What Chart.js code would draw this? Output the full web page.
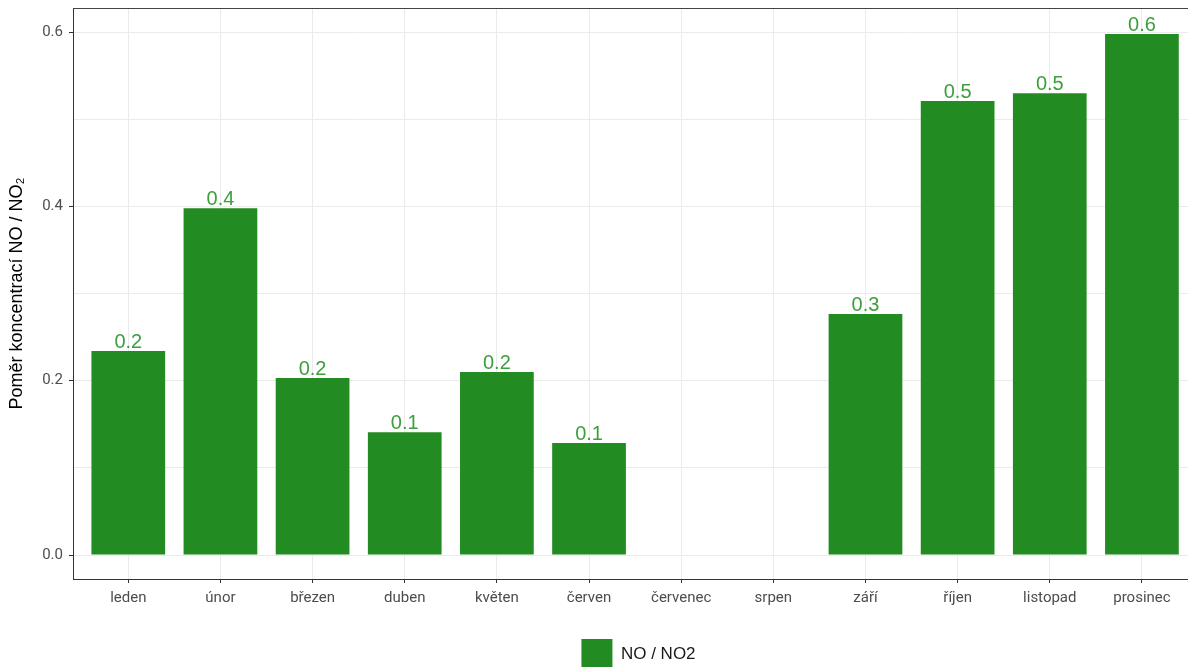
<!DOCTYPE html>
<html>
<head>
<meta charset="utf-8">
<script src="https://cdn.jsdelivr.net/npm/chart.js"></script>
<style>
  html, body { margin: 0; padding: 0; background: #fff; overflow: hidden; }
  #wrap { width: 1188px; height: 690px; position: relative; }
</style>
</head>
<body>
<div id="wrap"><canvas id="myChart"></canvas></div>
<script>
// months (categories)
var months = ["leden", "únor", "březen", "duben", "květen", "červen",
              "červenec", "srpen", "září", "říjen", "listopad", "prosinec"];
// ratio NO / NO2 per month (null = no data)
var ratio = [0.234, 0.398, 0.203, 0.141, 0.210, 0.1285,
             null, null, 0.2765, 0.521, 0.530, 0.598];
var yTicks = [0, 0.1, 0.2, 0.3, 0.4, 0.5, 0.6];
var yLabelTicks = [0, 0.2, 0.4, 0.6];

var isMajor = function (v) {
    return yLabelTicks.some(function (t) { return Math.abs(t - v) < 1e-9; });
};

// value labels above bars
var barLabels = {
    id: 'barLabels',
    afterDatasetsDraw: function (chart) {
        var c = chart.ctx;
        var meta = chart.getDatasetMeta(0);
        c.save();
        c.font = '20px "Liberation Sans", Arial, sans-serif';
        c.fillStyle = '#3c9f3c';
        c.textAlign = 'center';
        c.textBaseline = 'alphabetic';
        meta.data.forEach(function (bar, i) {
            if (ratio[i] === null) return;
            c.fillText(ratio[i].toFixed(1), bar.x, bar.y - 3);
        });
        c.restore();
    }
};

// top panel border (the right side runs past the picture), legend nudged
var panelBorder = {
    id: 'panelBorder',
    afterLayout: function (chart) {
        chart.legend.left += 8;
        chart.legend.right += 8;
    },
    afterDraw: function (chart) {
        var a = chart.chartArea, c = chart.ctx;
        c.save();
        c.strokeStyle = '#444444';
        c.lineWidth = 1;
        c.beginPath();
        c.moveTo(a.left, a.top + 0.5);
        c.lineTo(a.right + 1, a.top + 0.5);
        c.stroke();
        c.restore();
    }
};

var ctx = document.getElementById('myChart').getContext('2d');
var chart = new Chart(ctx, {
    type: 'bar',
    data: {
        datasets: [{
            label: 'NO / NO2',
            data: months.map(function (m, i) { return { x: i, y: ratio[i] }; }),
            backgroundColor: '#228B22',
            borderWidth: 0,
            barPercentage: 0.8,
            categoryPercentage: 1
        }]
    },
    plugins: [barLabels, panelBorder],
    options: {
        responsive: true,
        maintainAspectRatio: false,
        animation: false,
        layout: { padding: { top: 8, right: 0, left: 0, bottom: 10 } },
        plugins: {
            tooltip: { enabled: false },
            legend: {
                position: 'bottom',
                fullSize: false,
                labels: {
                    boxWidth: 31,
                    boxHeight: 31,
                    padding: 10,
                    color: '#1a1a1a',
                    font: { family: '"Liberation Sans", Arial, sans-serif', size: 17 }
                }
            }
        },
        scales: {
            x: {
                type: 'linear',
                min: -0.6,
                max: 11.5,
                offset: false,
                afterBuildTicks: function (scale) {
                    scale.ticks = months.map(function (m, i) { return { value: i }; });
                },
                afterFit: function (scale) {
                    scale.height = 50;
                    scale.paddingLeft = 0;
                    scale.paddingRight = 0;
                },
                ticks: {
                    autoSkip: false,
                    maxRotation: 0,
                    padding: 6,
                    color: '#4d4d4d',
                    font: { family: 'Roboto, "Liberation Sans", sans-serif', size: 15 },
                    callback: function (v) { return months[v]; }
                },
                grid: { offset: false, color: '#ebebeb', lineWidth: 1, tickLength: 4, tickColor: '#333333' },
                border: { display: true, color: '#333333', width: 1 }
            },
            y: {
                min: -0.0275,
                max: 0.6277,
                afterBuildTicks: function (scale) {
                    scale.ticks = yTicks.map(function (v) { return { value: v }; });
                },
                afterFit: function (scale) {
                    scale.width = 73;
                    scale.paddingTop = 0;
                    scale.paddingBottom = 0;
                },
                ticks: {
                    padding: 6,
                    color: '#4d4d4d',
                    font: { family: 'Roboto, "Liberation Sans", sans-serif', size: 15 },
                    callback: function (v) { return isMajor(v) ? v.toFixed(1) : ''; }
                },
                grid: {
                    color: '#ebebeb',
                    lineWidth: 1,
                    tickLength: 4,
                    tickColor: function (c) { return isMajor(c.tick.value) ? '#333333' : 'rgba(0,0,0,0)'; }
                },
                border: { display: true, color: '#333333', width: 1 },
                title: {
                    display: true,
                    text: 'Poměr koncentrací NO / NO₂',
                    color: '#000000',
                    padding: { top: 6, bottom: 0 },
                    font: { family: '"Liberation Sans", Arial, sans-serif', size: 18 }
                }
            }
        }
    }
});
</script>
</body>
</html>
